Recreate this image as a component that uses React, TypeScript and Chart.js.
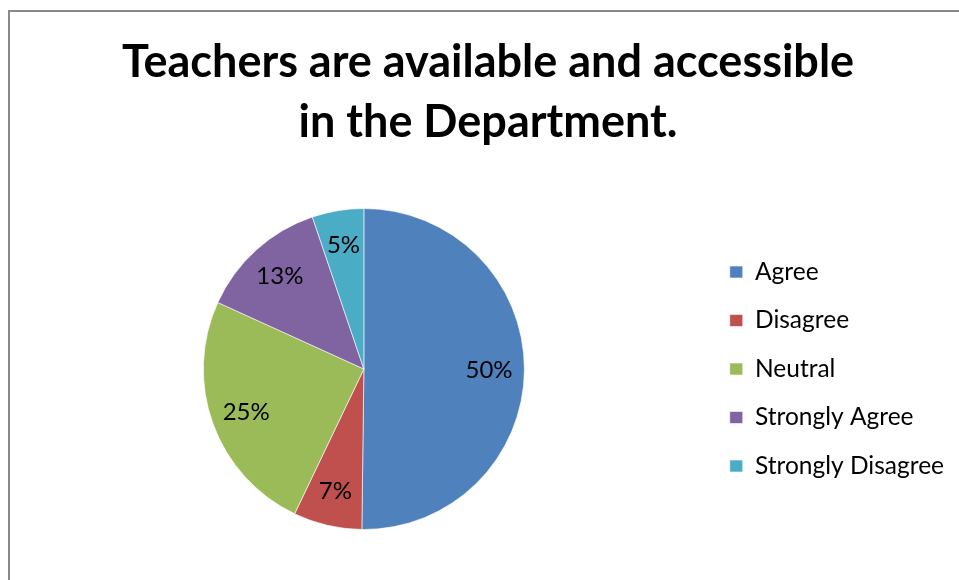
import React, { useEffect, useRef } from "react";
import { Chart, registerables } from "chart.js";

Chart.register(...registerables);

const categories = ["Agree", "Disagree", "Neutral", "Strongly Agree", "Strongly Disagree"];
const shares = [50.2, 6.9, 24.7, 13.0, 5.2];
const colors = ["#4F81BD", "#C0504D", "#9BBB59", "#8064A2", "#4BACC6"];
const titleLines = ["Teachers are available and accessible", "in the Department."];

const FONT = "Lato, 'Open Sans', sans-serif";

const labelPlugin = {
  id: "sliceLabels",
  afterDatasetsDraw(chart: any) {
    const meta = chart.getDatasetMeta(0);
    const ctx = chart.ctx;
    const data = chart.data.datasets[0].data as number[];
    const total = data.reduce((a: number, b: number) => a + b, 0);
    ctx.save();
    ctx.font = `24px ${FONT}`;
    ctx.fillStyle = "#000";
    ctx.textAlign = "center";
    ctx.textBaseline = "middle";
    meta.data.forEach((arc: any, i: number) => {
      const p = arc.getProps(["x", "y", "startAngle", "endAngle", "outerRadius"], true);
      const mid = (p.startAngle + p.endAngle) / 2;
      const r = p.outerRadius * 0.78;
      const x = p.x + Math.cos(mid) * r;
      const y = p.y + Math.sin(mid) * r;
      ctx.fillText(Math.round((data[i] / total) * 100) + "%", x, y);
    });
    ctx.restore();
  },
};

export default function App() {
  const ref = useRef<HTMLCanvasElement>(null);
  useEffect(() => {
    if (!ref.current) return;
    const chart = new Chart(ref.current, {
      type: "pie",
      data: {
        labels: categories,
        datasets: [
          {
            data: shares,
            backgroundColor: colors,
            borderColor: "rgba(255,255,255,0.6)",
            borderWidth: 1,
          },
        ],
      },
      options: {
        responsive: false,
        animation: false,
        devicePixelRatio: 1,
        layout: { padding: { left: 22, right: 5, top: 0, bottom: 50 } },
        plugins: {
          title: {
            display: true,
            text: titleLines,
            color: "#000",
            font: { family: FONT, weight: "bold", size: 45, lineHeight: "60px" },
            padding: { top: 32, bottom: 56 },
          },
          legend: {
            position: "right",
            fullSize: false,
            labels: {
              boxWidth: 13,
              boxHeight: 12,
              padding: 24,
              color: "#000",
              font: { family: FONT, size: 24.5 },
            },
          },
          tooltip: { enabled: false },
        },
      },
      plugins: [labelPlugin],
    });
    return () => chart.destroy();
  }, []);
  return (
    <div style={{ position: "absolute", left: 0, top: 0, width: 959, height: 580, overflow: "hidden", background: "#fff" }}>
      <div
        style={{
          position: "absolute",
          left: 8,
          top: 10,
          width: 2000,
          height: 2000,
          borderTop: "2px solid #898989",
          borderLeft: "2px solid #898989",
        }}
      />
      <canvas ref={ref} width={959} height={580} style={{ position: "absolute", left: 0, top: 0 }} />
    </div>
  );
}
